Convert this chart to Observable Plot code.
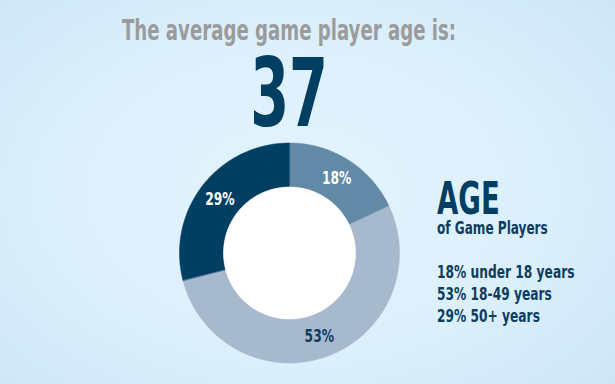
<!DOCTYPE html>
<html>
<head>
<meta charset="utf-8">
<script src="https://cdn.jsdelivr.net/npm/d3@7"></script>
<script src="https://cdn.jsdelivr.net/npm/@observablehq/plot@0.6"></script>
<style>
  html, body { margin: 0; padding: 0; }
  body { width: 615px; height: 384px; overflow: hidden;
    background: radial-gradient(ellipse 70% 75% at 48% 50%, #e3f3fd 0%, #dcf0fc 55%, #cde6f7 100%);
    font-family: "DejaVu Sans Condensed", "DejaVu Sans", sans-serif; font-weight: bold; }
  #wrap { position: relative; width: 615px; height: 384px; }
  #wrap svg { position: absolute; left: 0; top: 0; background: transparent; }
  .t { position: absolute; white-space: nowrap; line-height: 1; }
  #title { left: 289px; top: 16.7px; font-size: 28px; color: #9b9b9b; transform: translateX(-50%) scaleX(0.72); transform-origin: center; }
  #big { left: 289px; top: 47px; font-size: 94px; color: #003f62; transform: translateX(-50%) scaleX(0.66); transform-origin: center; }
  #age { left: 437px; top: 180.3px; font-size: 45px; line-height: 0.85; color: #003f62; transform: scaleX(0.68); transform-origin: left; }
  #sub { left: 437px; top: 220px; font-size: 17px; color: #0d3d5f; transform: scaleX(0.79); transform-origin: left; }
  #leg { left: 437px; top: 260.7px; font-size: 17px; color: #0d3d5f; line-height: 22.3px; transform: scaleX(0.8); transform-origin: left top; }
</style>
</head>
<body>
<div id="wrap"></div>
<script>
const title = "The average game player age is:";
const averageAge = "37";
const legendTitle = "AGE";
const legendSubtitle = "of Game Players";
const categories = ["under 18 years", "18-49 years", "50+ years"];
const shares = [18, 53, 29];
const colors = ["#6289a5", "#a7b9cd", "#003f62"];
const labelColors = ["#ffffff", "#0d3d5f", "#ffffff"];

const W = 615, H = 384;
const cx = 289, cy = 252.5, R = 110, r0 = 66;

const total = d3.sum(shares);
let acc = 0;
const slices = shares.map((v, i) => {
  const a0 = acc / total * 2 * Math.PI;
  acc += v;
  const a1 = acc / total * 2 * Math.PI;
  return {i, cat: categories[i], value: v, a0, a1};
});

const inner = r0 / R;
const ring = [];
slices.forEach(s => {
  const n = Math.max(4, Math.ceil((s.a1 - s.a0) / (Math.PI / 180)));
  for (let k = 0; k <= n; k++) {
    const a = s.a0 + (s.a1 - s.a0) * k / n;
    ring.push({slice: s.i, x: Math.sin(a), y: Math.cos(a)});
  }
  for (let k = n; k >= 0; k--) {
    const a = s.a0 + (s.a1 - s.a0) * k / n;
    ring.push({slice: s.i, x: inner * Math.sin(a), y: inner * Math.cos(a)});
  }
});
const hole = d3.range(0, 361, 2).map(d => ({x: inner * Math.sin(d * Math.PI / 180), y: inner * Math.cos(d * Math.PI / 180)}));
const mid = (1 + inner) / 2;
const labels = slices.map(s => {
  const a = (s.a0 + s.a1) / 2;
  return {text: s.value + "%", x: mid * Math.sin(a), y: mid * Math.cos(a), i: s.i};
});

const plot = Plot.plot({
  width: W, height: H,
  margin: 0,
  style: {background: "transparent", overflow: "visible"},
  x: {domain: [-cx / R, (W - cx) / R], axis: null},
  y: {domain: [-(H - cy) / R, cy / R], axis: null},
  marks: [
    Plot.line(ring, {x: "x", y: "y", z: "slice", fill: d => colors[d.slice], stroke: d => colors[d.slice], strokeWidth: 0.5, curve: "linear-closed"}),
    Plot.line(hole, {x: "x", y: "y", fill: "#ffffff", stroke: "#ffffff", strokeWidth: 0.5, curve: "linear-closed"}),
    Plot.text(labels, {x: "x", y: "y", text: "text", fill: d => labelColors[d.i], fontSize: 18, fontWeight: "bold",
      fontFamily: "DejaVu Sans Condensed, DejaVu Sans, sans-serif"})
  ]
});
// condense the slice labels horizontally (no narrow bold font is installed)
plot.querySelectorAll("text").forEach(t => {
  const tr = t.getAttribute("transform");
  if (tr) {
    t.setAttribute("transform", tr + " scale(0.76,1)");
  } else {
    const x = t.getAttribute("x") || 0, y = t.getAttribute("y") || 0;
    t.removeAttribute("x"); t.removeAttribute("y");
    t.setAttribute("transform", `translate(${x},${y}) scale(0.76,1)`);
  }
});
const wrap = document.getElementById("wrap");
wrap.appendChild(plot);

function addText(id, html) {
  const d = document.createElement("div");
  d.id = id; d.className = "t"; d.innerHTML = html;
  wrap.appendChild(d);
}
addText("title", title);
addText("big", averageAge);
addText("age", legendTitle);
addText("sub", legendSubtitle);
addText("leg", slices.map(s => `${s.value}% ${s.cat}`).join("<br>"));
</script>
</body>
</html>
